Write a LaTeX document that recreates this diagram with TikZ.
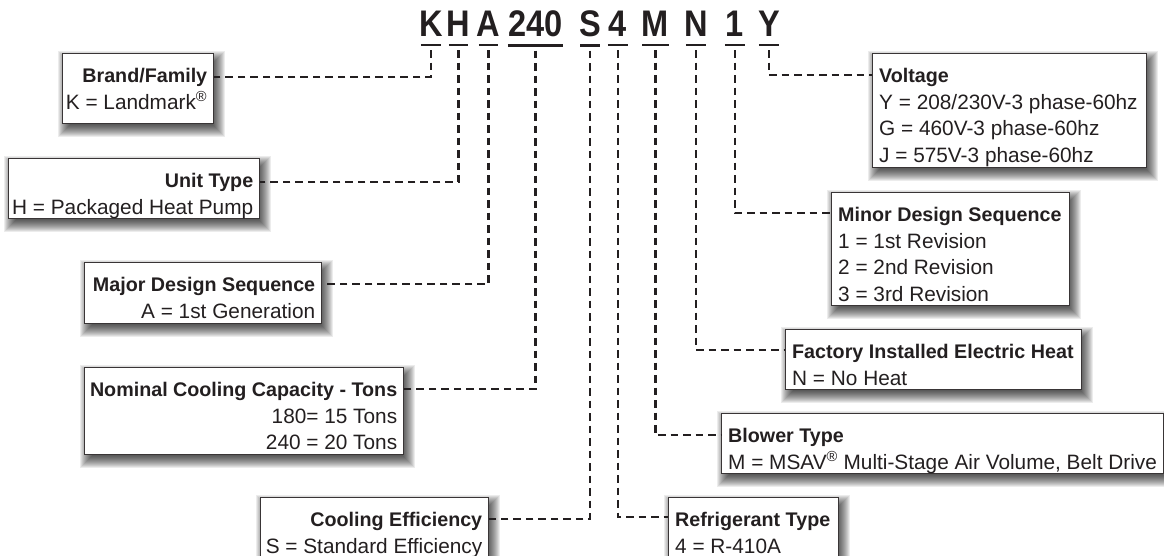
\documentclass[tikz,border=0pt]{standalone}
\usepackage{fontspec}
\setmainfont{Liberation Sans}
\newfontfamily\codefont[FakeStretch=0.88]{Liberation Sans}
\usetikzlibrary{calc}
\definecolor{ink}{HTML}{231F20}
\tikzset{
  boxframe/.style={draw=ink!90, line width=1.4pt, fill=white, inner sep=0pt, anchor=north west},
  txt/.style={inner sep=0pt, text=ink, font=\fontsize{20.8}{26.5}\selectfont},
  codeletter/.style={inner xsep=0pt, inner ysep=8pt, text=ink, font=\codefont\bfseries\fontsize{37}{40}\selectfont, anchor=base},
  uline/.style={draw=ink, line width=2.6pt},
  conn/.style={draw=ink, line width=2.4pt, dash pattern=on 7.5pt off 5pt},
}
\newcommand\tit[1]{{\fontsize{19.7}{26.5}\selectfont\bfseries\strut #1}}
\newcommand\shbox[5]{%
  \foreach \k in {-4,-3,...,8}{\fill[black,opacity=0.075] ({#2+4-\k},{#3+6-\k}) rectangle ({#2+#4+4+\k},{#3+#5+6+\k});}
  \node[boxframe, minimum width=#4pt, minimum height=#5pt] (#1) at (#2,#3) {};}
\begin{document}
\begin{tikzpicture}[x=1pt,y=-1pt]
\useasboundingbox (0,0) rectangle (1164,556);
\fill[white] (0,0) rectangle (1164,556);

% boxes with shadows
\shbox{brand}{62}{53}{151}{70}
\shbox{unit}{8}{158}{251}{60}
\shbox{major}{84}{262}{237}{61}
\shbox{nominal}{84}{367}{319}{87}
\shbox{cooling}{260}{497}{228}{75}
\shbox{refrig}{668}{497}{170}{75}
\shbox{blower}{721}{413}{442}{60}
\shbox{factory}{785}{329}{296}{60}
\shbox{minor}{831}{192}{238}{113}
\shbox{voltage}{872}{53}{274}{114}

% box texts
\node[txt, align=right, anchor=north east] (tbrand) at ($(brand.north east)+(-7,11)$) {\tit{Brand/Family}\\K = Landmark\textsuperscript{\textregistered}};
\node[txt, align=right, anchor=north east] (tunit) at ($(unit.north east)+(-7,11)$) {\tit{Unit Type}\\H = Packaged Heat Pump};
\node[txt, align=right, anchor=north east] (tmajor) at ($(major.north east)+(-7,11)$) {\tit{Major Design Sequence}\\A = 1st Generation};
\node[txt, align=right, anchor=north east] (tnominal) at ($(nominal.north east)+(-7,11)$) {\tit{Nominal Cooling Capacity - Tons}\\180= 15 Tons\\240 = 20 Tons};
\node[txt, align=right, anchor=north east] (tcooling) at ($(cooling.north east)+(-7,11)$) {\tit{Cooling Efficiency}\\S = Standard Efficiency};
\node[txt, align=left, anchor=north west] (trefrig) at ($(refrig.north west)+(7,11)$) {\tit{Refrigerant Type}\\4 = R-410A};
\node[txt, align=left, anchor=north west] (tblower) at ($(blower.north west)+(7,11)$) {\tit{Blower Type}\\M = MSAV\textsuperscript{\textregistered} Multi-Stage Air Volume, Belt Drive};
\node[txt, align=left, anchor=north west] (tfactory) at ($(factory.north west)+(7,11)$) {\tit{Factory Installed Electric Heat}\\N = No Heat};
\node[txt, align=left, anchor=north west] (tminor) at ($(minor.north west)+(7,11)$) {\tit{Minor Design Sequence}\\1 = 1st Revision\\2 = 2nd Revision\\3 = 3rd Revision};
\node[txt, align=left, anchor=north west] (tvoltage) at ($(voltage.north west)+(7,11)$) {\tit{Voltage}\\Y = 208/230V-3 phase-60hz\\G = 460V-3 phase-60hz\\J = 575V-3 phase-60hz};

% code letters
\node[codeletter] (cK) at (431,37) {\makebox[20pt]{K}};
\node[codeletter] (cH) at (458.5,37) {\makebox[19pt]{H}};
\node[codeletter] (cA) at (488.5,37) {\makebox[19pt]{A}};
\node[codeletter] (c240) at (535.5,37) {\makebox[55pt]{240}};
\node[codeletter] (cS) at (590,37) {\makebox[19pt]{S}};
\node[codeletter] (c4) at (618,37) {\makebox[20pt]{4}};
\node[codeletter] (cM) at (655.5,37) {\makebox[26pt]{M}};
\node[codeletter] (cN) at (696,37) {\makebox[20pt]{N}};
\node[codeletter] (c1) at (735,37) {\makebox[20pt]{1}};
\node[codeletter] (cY) at (769,37) {\makebox[20pt]{Y}};
\foreach \c in {cK,cH,cA,c240,cS,c4,cM,cN,c1,cY}{\draw[uline] (\c.south west) -- (\c.south east);}

% connectors
\draw[conn] ([yshift=-5pt]cK.south) |- ($(brand.north east)+(0,24)$);
\draw[conn] ([yshift=-5pt]cH.south) |- ($(unit.north east)+(0,24)$);
\draw[conn] ([yshift=-5pt]cA.south) |- ($(major.north east)+(0,22)$);
\draw[conn] ([yshift=-5pt]c240.south) |- ($(nominal.north east)+(0,22)$);
\draw[conn] ([yshift=-5pt]cS.south) |- ($(cooling.north east)+(0,22)$);
\draw[conn] ([yshift=-5pt]c4.south) |- ($(refrig.north west)+(0,20)$);
\draw[conn] ([yshift=-5pt]cM.south) |- ($(blower.north west)+(0,22)$);
\draw[conn] ([yshift=-5pt]cN.south) |- ($(factory.north west)+(0,21)$);
\draw[conn] ([yshift=-5pt]c1.south) |- ($(minor.north west)+(0,21)$);
\draw[conn] ([yshift=-5pt]cY.south) |- ($(voltage.north west)+(0,22)$);
\end{tikzpicture}
\end{document}
